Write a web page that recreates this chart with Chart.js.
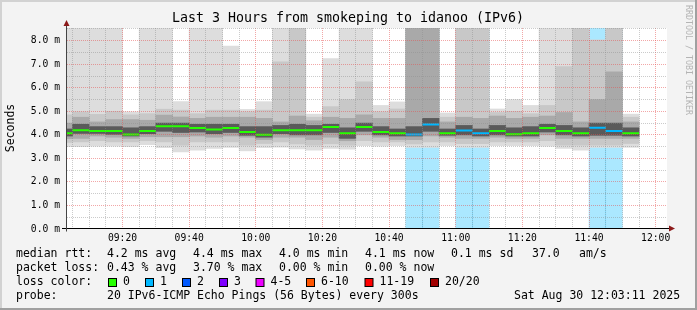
<!DOCTYPE html>
<html>
<head>
<meta charset="utf-8">
<script src="https://cdn.jsdelivr.net/npm/chart.js@4"></script>
<style>
  html, body { margin: 0; padding: 0; background: #f3f3f3; }
  #wrap { width: 697px; height: 310px; }
</style>
</head>
<body>
<div id="wrap"><canvas id="smokeChart" width="697" height="310"></canvas></div>
<script>
// 5 minute slots (start time of each RRD step)
const slots = ['09:00','09:05','09:10','09:15','09:20','09:25','09:30','09:35','09:40','09:45',
               '09:50','09:55','10:00','10:05','10:10','10:15','10:20','10:25','10:30','10:35',
               '10:40','10:45','10:50','10:55','11:00','11:05','11:10','11:15','11:20','11:25',
               '11:30','11:35','11:40','11:45','11:50'];

// median rtt (ms)
const median = [4.07, 4.20, 4.16, 4.16, 4.02, 4.16, 4.37, 4.37, 4.29, 4.23,
                4.29, 4.12, 4.00, 4.20, 4.20, 4.20, 4.33, 4.07, 4.33, 4.12,
                4.07, 4.02, 4.44, 4.07, 4.19, 4.07, 4.16, 4.03, 4.07, 4.29,
                4.16, 4.07, 4.30, 4.16, 4.07];

// lost pings out of 20
const loss = [0, 0, 0, 0, 0, 0, 0, 0, 0, 0,
              0, 0, 0, 0, 0, 0, 0, 0, 0, 0,
              0, 1, 1, 0, 1, 1, 0, 0, 0, 0,
              0, 0, 1, 1, 0];

// smoke: outer to inner ping bands (ms), values above 8.5 run off the graph
const smokeMin = [3.50, 3.50, 3.52, 3.52, 3.50, 3.58, 3.46, 3.28, 3.35, 3.42,
                  3.47, 3.32, 3.46, 3.48, 3.40, 3.35, 3.42, 3.39, 3.54, 3.52,
                  3.54, 3.47, 3.47, 3.54, 3.47, 3.47, 3.54, 3.54, 3.54, 3.52,
                  3.42, 3.35, 3.47, 3.47, 3.47];
const smokeMax = [9.5, 9.5, 9.5, 9.5, 4.98, 9.5, 9.5, 5.41, 9.5, 9.5,
                  7.77, 5.08, 5.41, 9.5, 9.5, 4.88, 7.24, 9.5, 9.5, 5.25,
                  5.40, 9.5, 9.5, 4.93, 9.5, 9.5, 5.10, 5.50, 5.25, 9.5,
                  9.5, 9.5, 8.03, 9.5, 4.88];
const smoke2Lo = [3.68, 3.70, 3.75, 3.70, 3.70, 3.75, 3.70, 3.56, 3.70, 3.70,
                  3.70, 3.56, 3.63, 3.70, 3.62, 3.56, 3.62, 3.56, 3.75, 3.70,
                  3.70, 3.62, 3.70, 3.70, 3.63, 3.63, 3.70, 3.70, 3.70, 3.75,
                  3.56, 3.56, 3.56, 3.56, 3.63];
const smoke2Hi = [4.85, 4.98, 4.87, 5.00, 4.85, 4.90, 5.09, 5.05, 4.90, 5.05,
                  5.05, 4.98, 5.05, 7.10, 9.5, 4.75, 5.20, 5.50, 6.25, 4.98,
                  5.10, 9.5, 9.5, 4.75, 9.5, 9.5, 4.95, 5.00, 4.90, 5.25,
                  6.90, 9.5, 8.03, 9.5, 4.75];
const smoke3Lo = [3.84, 3.85, 3.95, 3.90, 3.85, 3.92, 3.92, 3.92, 3.95, 3.90,
                  3.95, 3.90, 3.80, 3.90, 3.90, 3.80, 3.90, 3.75, 4.00, 3.90,
                  3.80, 3.80, 3.95, 3.90, 3.85, 3.85, 3.90, 3.85, 3.85, 4.00,
                  3.85, 3.85, 3.85, 3.85, 3.85];
const smoke3Hi = [4.50, 4.75, 4.55, 4.65, 4.65, 4.62, 4.84, 4.76, 4.70, 4.75,
                  4.75, 4.75, 4.70, 4.55, 4.80, 4.60, 4.75, 4.70, 4.85, 4.70,
                  4.70, 9.5, 9.5, 4.55, 4.75, 4.70, 4.80, 4.70, 4.75, 4.80,
                  4.95, 4.55, 5.50, 6.68, 4.55];
const smoke4Lo = [3.95, 4.06, 4.06, 4.02, 3.95, 4.05, 4.15, 4.10, 4.12, 4.05,
                  4.10, 3.98, 3.90, 4.05, 4.00, 4.00, 4.10, 3.85, 4.15, 4.00,
                  3.95, 3.95, 4.15, 3.98, 4.00, 3.95, 4.00, 3.95, 3.95, 4.12,
                  4.00, 3.95, 3.98, 3.98, 3.95];
const smoke4Hi = [4.25, 4.45, 4.35, 4.35, 4.30, 4.35, 4.50, 4.50, 4.45, 4.45,
                  4.45, 4.35, 4.35, 4.40, 4.45, 4.40, 4.45, 4.30, 4.50, 4.35,
                  4.25, 4.35, 4.70, 4.25, 4.40, 4.25, 4.40, 4.30, 4.35, 4.45,
                  4.40, 4.30, 4.50, 4.50, 4.30];

const lossColors = { 0: '#26ff00', 1: '#00b8ff', 2: '#0059ff', 3: '#7e00ff' };
const legendLoss = [['0', '#26ff00'], ['1', '#00b8ff'], ['2', '#0059ff'], ['3', '#7e00ff'],
                    ['4-5', '#ee00ff'], ['6-10', '#ff5500'], ['11-19', '#ff0000'], ['20/20', '#a10000']];

const xMin = 3.35, xMax = 183.4;   // minutes after 09:00
const yMax = 8.54;

function toMin(s) {
  const p = s.split(':').map(Number);
  return (p[0] - 9) * 60 + p[1];
}
function fmt(m) {
  const h = 9 + Math.floor(m / 60), mm = m % 60;
  return String(h).padStart(2, '0') + ':' + String(mm).padStart(2, '0');
}

const step = 5;
const mids = slots.map(s => toMin(s) + step / 2);

function band(lo, hi, color, order) {
  return {
    data: slots.map((s, i) => ({ x: mids[i], y: [lo[i], hi[i]] })),
    backgroundColor: color,
    borderWidth: 0,
    grouped: false,
    barPercentage: 1,
    categoryPercentage: 1,
    clip: 0,
    order: order
  };
}

const lossBg = {
  data: slots.map((s, i) => loss[i] > 0 ? { x: mids[i], y: [0, yMax] } : null).filter(Boolean),
  backgroundColor: 'rgba(0,184,255,0.33)',
  borderWidth: 0,
  grouped: false,
  barPercentage: 1,
  categoryPercentage: 1,
  clip: 0,
  order: 9
};

const medianSets = [...new Set(loss)].map(l => ({
  type: 'line',
  data: slots.flatMap((s, i) => loss[i] === l
    ? [{ x: toMin(s), y: median[i] }, { x: toMin(s) + step, y: median[i] }, { x: toMin(s) + step, y: null }]
    : []),
  borderColor: lossColors[l],
  borderWidth: 2,
  borderCapStyle: 'butt',
  pointRadius: 0,
  spanGaps: false,
  clip: 0,
  order: 0
}));

const mono = '"DejaVu Sans Mono", monospace';

const rrdFrame = {
  id: 'rrdFrame',
  beforeDraw(chart) {
    const { ctx, chartArea: a } = chart;
    ctx.save();
    ctx.fillStyle = '#f3f3f3';
    ctx.fillRect(0, 0, 697, 310);
    ctx.fillStyle = '#d2d2d2';
    ctx.fillRect(0, 0, 697, 2);
    ctx.fillRect(0, 0, 2, 310);
    ctx.fillStyle = '#a0a0a0';
    ctx.fillRect(0, 308, 697, 2);
    ctx.fillRect(695, 0, 2, 310);
    ctx.fillStyle = '#ffffff';
    ctx.fillRect(a.left, a.top, a.right - a.left, a.bottom - a.top);
    ctx.restore();
  },
  afterDraw(chart) {
    const { ctx, chartArea: a } = chart;
    const ax = a.left - 0.5, ay = Math.floor(a.bottom) - 0.5;
    ctx.save();
    // axes
    ctx.lineWidth = 1;
    ctx.strokeStyle = '#000';
    ctx.beginPath();
    ctx.moveTo(a.left - 5, ay);
    ctx.lineTo(a.right + 3, ay);
    ctx.stroke();
    ctx.strokeStyle = '#444';
    ctx.beginPath();
    ctx.moveTo(ax, ay + 3);
    ctx.lineTo(ax, a.top - 5);
    ctx.stroke();
    // arrows
    ctx.fillStyle = '#8c1a1a';
    ctx.beginPath();
    ctx.moveTo(ax - 3, a.top - 2);
    ctx.lineTo(ax + 3, a.top - 2);
    ctx.lineTo(ax, a.top - 8);
    ctx.closePath();
    ctx.fill();
    ctx.beginPath();
    ctx.moveTo(a.right + 2, ay - 3);
    ctx.lineTo(a.right + 2, ay + 3);
    ctx.lineTo(a.right + 8, ay);
    ctx.closePath();
    ctx.fill();

    // title
    ctx.fillStyle = '#000';
    ctx.font = '13.3px ' + mono;
    ctx.textAlign = 'center';
    ctx.textBaseline = 'middle';
    ctx.fillText('Last 3 Hours from smokeping to idanoo (IPv6)', 348, 19);

    // y title
    ctx.save();
    ctx.font = '11.5px ' + mono;
    ctx.translate(11, 128);
    ctx.rotate(-Math.PI / 2);
    ctx.fillText('Seconds', 0, 0);
    ctx.restore();

    // watermark
    ctx.save();
    ctx.fillStyle = '#b4b4b4';
    ctx.font = '8.3px ' + mono;
    ctx.textAlign = 'left';
    ctx.translate(688.5, 5);
    ctx.rotate(Math.PI / 2);
    ctx.fillText('RRDTOOL / TOBI OETIKER', 0, 0);
    ctx.restore();

    // legend
    ctx.font = '11.5px ' + mono;
    ctx.textAlign = 'left';
    const rows = [
      [254.5, [[16, 'median rtt:'], [107, '4.2 ms avg'], [193, '4.4 ms max'], [279, '4.0 ms min'],
               [365, '4.1 ms now'], [451, '0.1 ms sd'], [532, '37.0'], [579, 'am/s']]],
      [268.5, [[16, 'packet loss:'], [107, '0.43 % avg'], [193, '3.70 % max'], [279, '0.00 % min'],
               [365, '0.00 % now']]],
      [282.5, [[16, 'loss color:']]],
      [296.5, [[16, 'probe:'], [107, '20 IPv6-ICMP Echo Pings (56 Bytes) every 300s'],
               [514, 'Sat Aug 30 12:03:11 2025']]]
    ];
    rows.forEach(([y, items]) => items.forEach(([x, t]) => ctx.fillText(t, x, y)));
    const boxX = [108.5, 145.5, 182.5, 219.5, 256, 306.5, 365, 430.5];
    legendLoss.forEach(([label, color], i) => {
      ctx.fillStyle = color;
      ctx.fillRect(boxX[i], 278.5, 8, 8);
      ctx.strokeStyle = '#000';
      ctx.strokeRect(boxX[i], 278.5, 8, 8);
      ctx.fillStyle = '#000';
      ctx.fillText(label, boxX[i] + 14.5, 282.5);
    });
    ctx.restore();
  }
};

const minorGrid = 'rgba(140,140,140,0.45)';
const majorGrid = 'rgba(230,80,80,0.5)';

new Chart(document.getElementById('smokeChart'), {
  type: 'bar',
  data: {
    datasets: [
      ...medianSets,
      band(smoke4Lo, smoke4Hi, '#5a5a5a', 1),
      band(smoke3Lo, smoke3Hi, '#a9a9a9', 2),
      band(smoke2Lo, smoke2Hi, '#c8c8c8', 3),
      band(smokeMin, smokeMax, '#dddddd', 4),
      lossBg
    ]
  },
  options: {
    responsive: false,
    animation: false,
    events: [],
    layout: { padding: { left: 0, top: 28, right: 30, bottom: 0 } },
    plugins: { legend: { display: false }, tooltip: { enabled: false } },
    scales: {
      x: {
        type: 'linear',
        min: xMin,
        max: xMax,
        offset: false,
        afterFit: s => { s.height = 81; },
        grid: {
          offset: false,
          z: 1,
          drawTicks: false,
          color: c => c.tick && c.tick.value % 20 === 0 ? majorGrid : minorGrid
        },
        border: { display: false, dash: [1, 1] },
        ticks: {
          stepSize: 5,
          includeBounds: false,
          autoSkip: false,
          maxRotation: 0,
          padding: 4,
          color: '#000',
          font: { family: 'DejaVu Sans Mono', size: 9.7 },
          callback: v => v % 20 === 0 ? fmt(v) : ''
        }
      },
      y: {
        min: 0,
        max: yMax,
        afterFit: s => { s.width = 67; },
        grid: {
          z: 1,
          drawTicks: false,
          color: c => !c.tick || c.tick.value === 0 ? 'rgba(0,0,0,0)'
            : Number.isInteger(c.tick.value) ? majorGrid : minorGrid
        },
        border: { display: false, dash: [1, 1] },
        ticks: {
          stepSize: 0.5,
          includeBounds: false,
          autoSkip: false,
          padding: 7,
          color: '#000',
          font: { family: 'DejaVu Sans Mono', size: 9.7 },
          callback: v => Number.isInteger(v) ? v.toFixed(1) + ' m' : ''
        }
      }
    }
  },
  plugins: [rrdFrame]
});
</script>
</body>
</html>
